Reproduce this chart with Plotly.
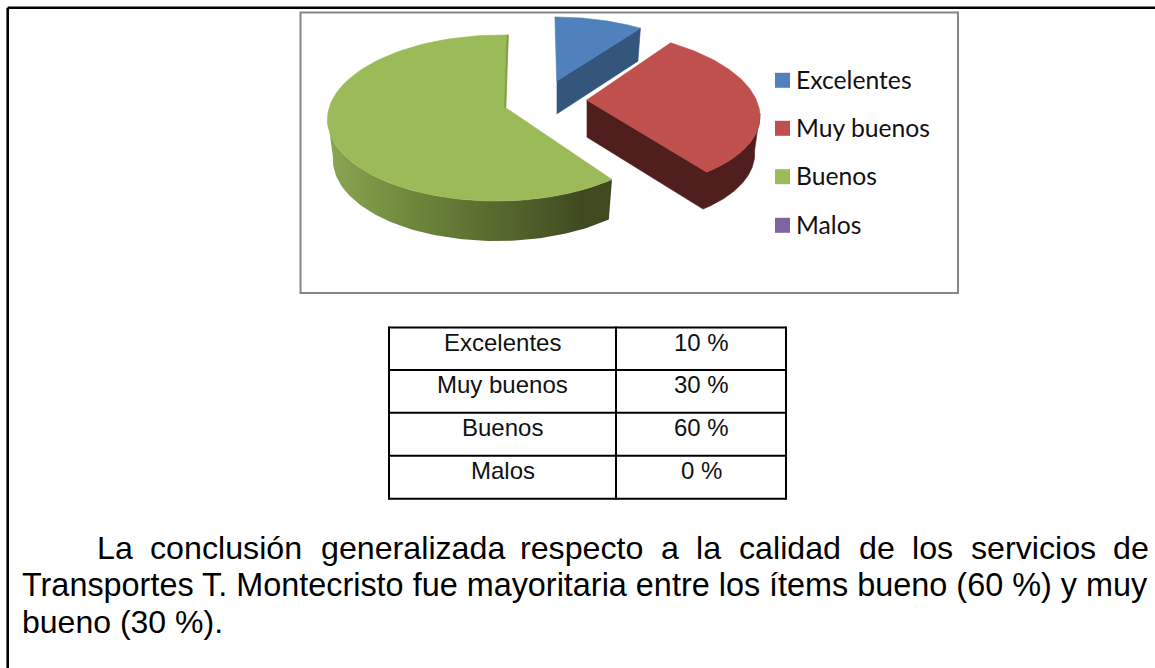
import numpy as np
import plotly.graph_objects as go

# ---- data ----
categories = ["Excelentes", "Muy buenos", "Buenos", "Malos"]
percentages = [10, 30, 60, 0]
pie_colors = ["#4f81bd", "#c0504d", "#9bbb59", "#8064a2"]

line_1 = "La conclusión generalizada respecto a la calidad de los servicios de".split()
line_2 = "Transportes T. Montecristo fue mayoritaria entre los ítems bueno (60 %) y muy"
line_3 = "bueno (30 %)."

# ---- layout constants (page pixels) ----
W, H = 1155, 668
line_1_x = [96.5, 150, 320.7, 520, 660.6, 696.3, 739.2, 858.5, 912.1, 970.9, 1113.2]
TEXT_FONT = "Liberation Sans"
LEGEND_FONT = "Lato"

geom = {
    "Excelentes": dict(cx=556.7, cy=81, a=159, e=-2, b=71.7, f=0, k=.12, m=0, dz=33, wall="#34557c"),
    "Muy buenos": dict(cx=586.7, cy=100, a=170.5, e=-10, b=79, f=2, k=.12, m=0, dz=37, wall="#4f1e1d"),
    "Buenos": dict(cx=506, cy=108, a=170, e=2.2, b=81.8, f=0, k=.12, m=.039, dz=40, wall=None),
}
green_gradient = [[0, "#8ba654"], [.3, "#6e873b"], [.7, "#4f5f2a"], [.9, "#3f4a20"], [1, "#3f4a20"]]


def rim(g, theta_deg, floor=False):
    t = np.radians(theta_deg)
    d = 1 + g["k"] * np.cos(t) + g["m"] * np.sin(t)
    x = (g["a"] * np.sin(t) + g["e"] * np.cos(t)) / d
    y = (-g["b"] * np.cos(t) + g["f"] * np.sin(t)) / d
    if floor:
        return g["cx"] + .97 * x, g["cy"] + y + g["dz"]
    return g["cx"] + x, g["cy"] + y


def arc(g, t0, t1, floor=False, n=90):
    return rim(g, np.linspace(t0, t1, n), floor)


fig = go.Figure()


def poly(xs, ys, color=None, **kw):
    fig.add_trace(go.Scatter(
        x=list(xs), y=list(ys), mode="lines", fill="toself", fillcolor=color,
        line=dict(width=0.6, color=color or "rgba(0,0,0,0)"), showlegend=False, hoverinfo="skip", **kw))


# slice angles come from the percentages
edges = np.concatenate([[0], np.cumsum(percentages) * 3.6])
angles = {c: (edges[i], edges[i + 1]) for i, c in enumerate(categories)}

# Walls ------------------------------------------------------------------
t0, t1 = angles["Buenos"]
ax, ay = arc(geom["Buenos"], t0, 264)
bx, by = arc(geom["Buenos"], 264, t0, floor=True)
fig.add_trace(go.Scatter(
    x=np.concatenate([ax, bx]), y=np.concatenate([ay, by]), mode="lines", fill="toself",
    line=dict(width=0), showlegend=False, hoverinfo="skip",
    fillgradient=dict(type="horizontal", colorscale=green_gradient)))

g = geom["Muy buenos"]
t0, t1 = angles["Muy buenos"]
ax, ay = arc(g, t1, 98)
bx, by = arc(g, 98, t1, floor=True)
poly(np.concatenate([[g["cx"]], ax, bx, [g["cx"]]]),
     np.concatenate([[g["cy"]], ay, by, [g["cy"] + g["dz"]]]), g["wall"])

g = geom["Excelentes"]
t0, t1 = angles["Excelentes"]
ex, ey = rim(g, t1)
fx, fy = rim(g, t1, floor=True)
poly([g["cx"], ex, fx, g["cx"]], [g["cy"], ey, fy, g["cy"] + g["dz"]], g["wall"])

# Top faces --------------------------------------------------------------
for name, color in zip(categories[:3], pie_colors[:3]):
    g = geom[name]
    t0, t1 = angles[name]
    rx, ry = arc(g, t0, t1)
    poly(np.concatenate([[g["cx"]], rx, [g["cx"]]]),
         np.concatenate([[g["cy"]], ry, [g["cy"]]]), color)

# small inner wall of the big slice, next to its 360-degree edge
g = geom["Buenos"]
sx, sy = rim(g, 360.0)
poly([g["cx"] - 1.5, sx - 1, sx + 0.5, g["cx"] - 0.5], [g["cy"], sy, sy, g["cy"]], "#7f9e45")

# Legend keys ------------------------------------------------------------
legend_y = [80.3, 128.3, 176.7, 225.3]
fig.add_trace(go.Scatter(
    x=[782.5] * 4, y=legend_y, mode="markers", showlegend=False, hoverinfo="skip",
    marker=dict(symbol="square", size=15, color=pie_colors, line=dict(width=0))))

annotations = []


def label(x, y, text, font, size, color="#000000", anchor="left"):
    annotations.append(dict(
        x=x, y=y, xref="x", yref="y", text=text, showarrow=False, xanchor=anchor, yanchor="middle",
        font=dict(family=font, size=size, color=color), borderpad=0, borderwidth=0))


for yy, name in zip(legend_y, categories):
    label(796, yy - 1, name, LEGEND_FONT, 24.7, "#111111")

# Frames -----------------------------------------------------------------
shapes = [
    dict(type="rect", x0=300.5, y0=12.5, x1=958, y1=293, line=dict(color="#868686", width=2)),
    dict(type="line", x0=7.7, y0=7.7, x1=W, y1=7.7, line=dict(color="#000", width=2.6)),
    dict(type="line", x0=7.7, y0=7.7, x1=7.7, y1=H, line=dict(color="#000", width=2.6)),
]
for s in shapes:
    s.update(xref="x", yref="y")

# Table ------------------------------------------------------------------
table_x = [389, 616, 786]
table_y = [327.5, 370, 412.7, 455.7, 498.7]
for xx in table_x:
    shapes.append(dict(type="line", xref="x", yref="y", x0=xx, x1=xx, y0=table_y[0] - 1, y1=table_y[-1] + 1,
                       line=dict(color="#000", width=2)))
for yy in table_y:
    shapes.append(dict(type="line", xref="x", yref="y", x0=table_x[0], x1=table_x[-1], y0=yy, y1=yy,
                       line=dict(color="#000", width=2)))
for i, (name, p) in enumerate(zip(categories, percentages)):
    yy = table_y[i] + 14.8
    label(502.5, yy, name, TEXT_FONT, 24, "#111111", anchor="center")
    label(701, yy, f"{p} %", TEXT_FONT, 24, "#111111", anchor="center")

# Paragraph --------------------------------------------------------------
for word, xx in zip(line_1, line_1_x):
    label(xx, 548, word, TEXT_FONT, 32.2)
label(22, 585, line_2, TEXT_FONT, 32.4)
label(22, 622, line_3, TEXT_FONT, 32)

fig.update_layout(
    width=W, height=H, margin=dict(l=0, r=0, t=0, b=0), showlegend=False,
    paper_bgcolor="white", plot_bgcolor="white",
    xaxis=dict(range=[0, W], visible=False, fixedrange=True),
    yaxis=dict(range=[H, 0], visible=False, fixedrange=True),
    shapes=shapes, annotations=annotations,
)
fig.write_html("out.html", config={"displayModeBar": False},
               post_script="document.body.style.margin='0';document.body.style.overflow='hidden';")
